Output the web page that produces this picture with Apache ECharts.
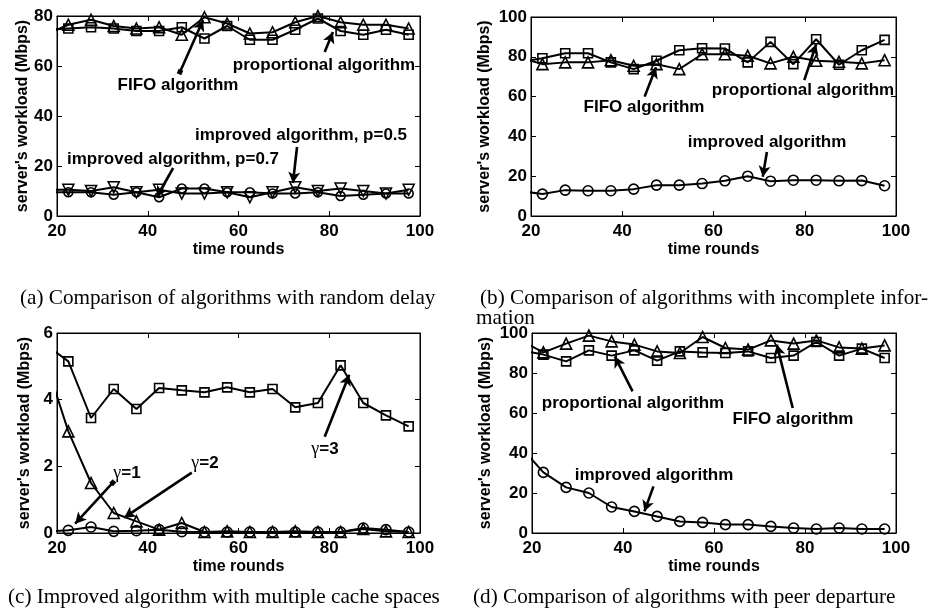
<!DOCTYPE html>
<html><head><meta charset="utf-8">
<script src="https://cdn.jsdelivr.net/npm/echarts@6/dist/echarts.min.js"></script>
<style>html,body{margin:0;padding:0;background:#fff}#c{width:942px;height:613px}</style>
</head><body><div id="c"></div>
<script>
// time rounds (first point lies just left of the visible range and is clipped)
const rounds = [17.5,22.5,27.5,32.5,37.5,42.5,47.5,52.5,57.5,62.5,67.5,72.5,77.5,82.5,87.5,92.5,97.5];
const xTicks = [20,40,60,80,100];

// (a) random delay
const aFifo  = [72.5,76.5,78.5,76,75,75.5,72.5,79.5,77,73,73.5,77.5,80,77.5,76.5,76.5,75];
const aProp  = [74.5,75,75.5,75,74,74,75.5,71,76,70.5,70.5,74.5,79,74,72.5,74.5,72.5];
const aImp05 = [10.5,10.5,10,11.5,9.5,10.5,9,9,9.5,7.5,9.5,11.5,10,11,10,9,10.5];
const aImp07 = [9.5,9.5,9.5,8.5,9.5,7.5,11,11,9.5,9.5,9,9,9.5,8,8.5,9,9];
// (b) incomplete information
const bFifo = [79.7,76.3,77.2,77.2,78.3,75.5,76.3,73.8,81.3,81.3,80.5,76.7,80,78,77.5,76.7,78.3];
const bProp = [77.3,79.3,81.8,81.8,77.2,73.8,78,83.3,84.3,84.2,77.2,87.5,76.3,88.8,76,83.3,88.5];
const bImp  = [12.6,11,13,12.7,12.7,13.5,15.5,15.5,16.3,17.7,20,17.5,18,18,17.7,17.8,15.2];
// (c) multiple cache spaces
const cG3 = [5.65,5.15,3.45,4.32,3.72,4.35,4.28,4.22,4.37,4.22,4.32,3.77,3.9,5.03,3.9,3.53,3.2];
const cG2 = [5.15,3.05,1.5,0.6,0.35,0.1,0.3,0.03,0.05,0.03,0.03,0.05,0.03,0.03,0.12,0.05,0.03];
const cG1 = [0.05,0.08,0.18,0.05,0.07,0.1,0.04,0.03,0.03,0.03,0.03,0.03,0.03,0.03,0.15,0.1,0.03];
// (d) peer departure
const dFifo = [96.3,90.3,94.7,98.7,95.8,94.2,90.8,90,98,92.5,91.7,96.3,94.7,96.3,92.8,92.2,93.8];
const dProp = [91.4,89.2,85.8,91.3,88.7,91.3,86.2,90.8,90.3,90,90.8,87.5,88.7,95.5,88.7,92.2,87.5];
const dImp  = [43,30.3,22.8,20,13,10.8,8.3,5.8,5.3,4.2,4.2,3.3,2.5,2,2.5,2,2];

const yRanges = [[0,80,20],[0,100,20],[0,6,2],[0,100,20]];
const yTitle = "server's workload (Mbps)";
const xTitle = "time rounds";

// annotation arrows in data coordinates: [grid, tail, tip, tailSquare]
const arrows = [
  [0,[47.1,57.6],[52.2,78.4],true],
  [0,[79,65.6],[80.8,73.6],false],
  [0,[72.9,27.6],[72,13.2],false],
  [0,[45.6,19.2],[42,7.6],false],
  [1,[44.9,60],[47.4,74.7],false],
  [1,[79.9,68.3],[82.5,86.3],false],
  [1,[71.7,32.2],[70.8,19.7],false],
  [2,[32.3,1.51],[24,0.28],true],
  [2,[49.7,1.81],[34.8,0.46],false],
  [2,[79,2.89],[84.4,4.75],false],
  [3,[42.1,70.8],[38.2,88.3],false],
  [3,[77.3,62.5],[73.8,94.2],false],
  [3,[46.7,23.3],[44.7,10.8],false]
];

const SANS = "'Liberation Sans', Arial, sans-serif";
const SERIF = "'Liberation Serif', 'Times New Roman', serif";

const grids = [
  {left:57, top:16, width:363, height:200},
  {left:531, top:17, width:365, height:199},
  {left:57, top:333, width:363, height:200},
  {left:532, top:333, width:364, height:200}
];

const xAxes = [], yAxes = [];
grids.forEach((g,i)=>{
  const tick = {show:true, inside:true, length:5, lineStyle:{color:'#000', width:1}};
  xAxes.push({type:'value', gridIndex:i, min:20, max:100, interval:20, position:'bottom',
    axisLine:{show:true, onZero:false, lineStyle:{color:'#000', width:1}}, axisTick:tick,
    splitLine:{show:false},
    axisLabel:{color:'#000', fontFamily:SANS, fontWeight:'bold', fontSize:17, margin:7,
      formatter:v=>xTicks.includes(v)?String(v):''},
    name:xTitle, nameLocation:'middle', nameGap:26,
    nameTextStyle:{color:'#000', fontFamily:SANS, fontWeight:'bold', fontSize:16}});
  xAxes.push({type:'value', gridIndex:i, min:20, max:100, interval:20, position:'top',
    axisLine:{show:true, onZero:false, lineStyle:{color:'#000', width:1}}, axisTick:tick,
    splitLine:{show:false}, axisLabel:{show:false}});
  const r = yRanges[i];
  yAxes.push({type:'value', gridIndex:i, min:r[0], max:r[1], interval:r[2], position:'left',
    axisLine:{show:true, onZero:false, lineStyle:{color:'#000', width:1}}, axisTick:tick,
    splitLine:{show:false},
    axisLabel:{color:'#000', fontFamily:SANS, fontWeight:'bold', fontSize:17, margin:4},
    name:yTitle, nameLocation:'middle', nameGap:i%2===0?24:38,
    nameTextStyle:{color:'#000', fontFamily:SANS, fontWeight:'bold', fontSize:16}});
  yAxes.push({type:'value', gridIndex:i, min:r[0], max:r[1], interval:r[2], position:'right',
    axisLine:{show:true, onZero:false, lineStyle:{color:'#000', width:1}}, axisTick:tick,
    splitLine:{show:false}, axisLabel:{show:false}});
});

function mk(name, vals, gi, symbol, size, rotate){
  return {name, type:'line', xAxisIndex:gi*2, yAxisIndex:gi*2, clip:true,
    data: rounds.map((x,k)=>[x, vals[k]]),
    symbol, symbolSize:size, symbolRotate:rotate||0, showAllSymbol:true,
    lineStyle:{color:'#000', width:2},
    itemStyle:{color:'rgba(0,0,0,0)', borderColor:'#000', borderWidth:1.6},
    emphasis:{disabled:true}, z:2};
}

const series = [
  mk('FIFO algorithm', aFifo, 0, 'triangle', 11),
  mk('proportional algorithm', aProp, 0, 'rect', 9),
  mk('improved algorithm, p=0.5', aImp05, 0, 'triangle', 11, 180),
  mk('improved algorithm, p=0.7', aImp07, 0, 'circle', 9),
  mk('FIFO algorithm', bFifo, 1, 'triangle', 11),
  mk('proportional algorithm', bProp, 1, 'rect', 9),
  mk('improved algorithm', bImp, 1, 'circle', 10),
  mk('γ=3', cG3, 2, 'rect', 9),
  mk('γ=2', cG2, 2, 'triangle', 11),
  mk('γ=1', cG1, 2, 'circle', 10),
  mk('FIFO algorithm', dFifo, 3, 'triangle', 11),
  mk('proportional algorithm', dProp, 3, 'rect', 9),
  mk('improved algorithm', dImp, 3, 'circle', 10)
];

// arrows via markLine on an invisible helper series per grid
[0,1,2,3].forEach(gi=>{
  series.push({type:'line', xAxisIndex:gi*2, yAxisIndex:gi*2, data:[], silent:true,
    markLine:{silent:true, animation:false, label:{show:false},
      lineStyle:{color:'#000', width:2.6, type:'solid'},
      emphasis:{disabled:true},
      data: arrows.filter(a=>a[0]===gi).map(a=>[
        {coord:a[1], symbol:a[3]?'rect':'none', symbolSize:a[3]?5:0},
        {coord:a[2], symbol:'arrow', symbolSize:[9,11]}
      ])}});
});

function txt(t,x,y,size){
  return {type:'text', x, y, z:100, style:{text:t, fill:'#000', font:'bold '+(size||17)+'px '+SANS,
    textAlign:'center', textVerticalAlign:'middle', align:'center', verticalAlign:'middle'}};
}
function gam(n,x,y){
  return {type:'text', x, y, z:100, style:{text:'{g|γ}{b|='+n+'}',
    textAlign:'center', textVerticalAlign:'middle', align:'center', verticalAlign:'middle',
    rich:{g:{fontFamily:SERIF, fontSize:18, fill:'#000', color:'#000'},
          b:{fontFamily:SANS, fontWeight:'bold', fontSize:17, fill:'#000', color:'#000'}}}};
}
function cap(t,x,y){
  return {type:'text', x, y, z:100, style:{text:t, fill:'#000', font:'21.2px '+SERIF,
    textAlign:'left', textVerticalAlign:'middle', align:'left', verticalAlign:'middle'}};
}

const graphic = [
  txt('FIFO algorithm',178,85),
  txt('proportional algorithm',324,65),
  txt('improved algorithm, p=0.5',301,135),
  txt('improved algorithm, p=0.7',173,159),
  txt('FIFO algorithm',644,107),
  txt('proportional algorithm',803,90),
  txt('improved algorithm',767,142),
  gam(1,127,473), gam(2,205,463), gam(3,325,449),
  txt('proportional algorithm',633,403),
  txt('FIFO algorithm',793,419),
  txt('improved algorithm',654,475),
  cap('(a) Comparison of algorithms with random delay',20,298),
  cap('(b) Comparison of algorithms with incomplete infor-',480,298),
  cap('mation',476,318),
  cap('(c) Improved algorithm with multiple cache spaces',8,597),
  cap('(d) Comparison of algorithms with peer departure',473,597)
];

const chart = echarts.init(document.getElementById('c'), null, {renderer:'canvas'});
chart.setOption({
  animation:false,
  backgroundColor:'#fff',
  grid: grids.map(g=>Object.assign({show:true, borderColor:'#000', borderWidth:1, backgroundColor:'rgba(0,0,0,0)'}, g)),
  xAxis:xAxes, yAxis:yAxes, series, graphic,
  tooltip:{show:false}
});
</script>
</body></html>
